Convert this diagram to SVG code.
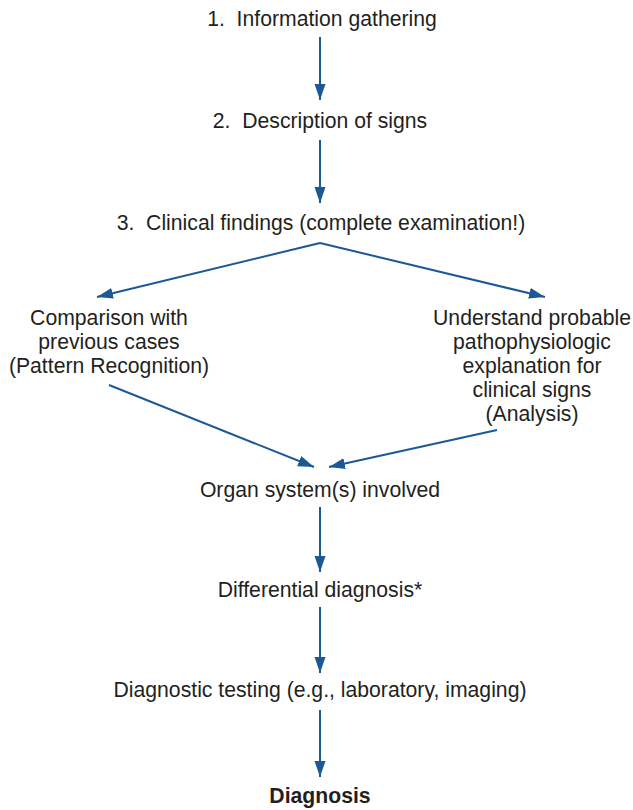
<svg xmlns="http://www.w3.org/2000/svg" width="633" height="810" viewBox="0 0 633 810">
<style>
text{font-family:"Liberation Sans",Arial,sans-serif;font-size:21.2px;fill:#231f20;text-anchor:middle;white-space:pre}
.b{font-weight:bold}
.c{stroke:#1b5996;stroke-width:2;fill:none}
</style>
<defs>
<marker id="ah" markerUnits="userSpaceOnUse" markerWidth="20" markerHeight="14" refX="16" refY="6" orient="auto">
<path d="M0,0.5 L16,6 L0,11.5 Z" fill="#1b5996"/>
</marker>
</defs>
<rect width="633" height="810" fill="#fff"/>
<g id="connectors">
<line class="c" x1="320" y1="37" x2="320" y2="100" marker-end="url(#ah)"/>
<line class="c" x1="320" y1="140" x2="320" y2="203" marker-end="url(#ah)"/>
<line class="c" x1="320" y1="243" x2="97" y2="297" marker-end="url(#ah)"/>
<line class="c" x1="320" y1="243" x2="545" y2="297" marker-end="url(#ah)"/>
<line class="c" x1="109" y1="385" x2="314" y2="467" marker-end="url(#ah)"/>
<line class="c" x1="497" y1="430" x2="329" y2="467" marker-end="url(#ah)"/>
<line class="c" x1="320" y1="507" x2="320" y2="572" marker-end="url(#ah)"/>
<line class="c" x1="320" y1="607" x2="320" y2="673" marker-end="url(#ah)"/>
<line class="c" x1="320" y1="710" x2="320" y2="777" marker-end="url(#ah)"/>
</g>
<g id="n1"><text x="322" y="26">1.  Information gathering</text></g>
<g id="n2"><text x="320" y="128">2.  Description of signs</text></g>
<g id="n3"><text x="321" y="230">3.  Clinical findings (complete examination!)</text></g>
<g id="n4"><text x="109" y="325">Comparison with</text><text x="109" y="349">previous cases</text><text x="109" y="373">(Pattern Recognition)</text></g>
<g id="n5"><text x="532" y="325">Understand probable</text><text x="532" y="349">pathophysiologic</text><text x="532" y="373">explanation for</text><text x="532" y="397">clinical signs</text><text x="532" y="421">(Analysis)</text></g>
<g id="n6"><text x="320" y="497">Organ system(s) involved</text></g>
<g id="n7"><text x="320" y="597">Differential diagnosis*</text></g>
<g id="n8"><text x="320" y="697">Diagnostic testing (e.g., laboratory, imaging)</text></g>
<g id="n9"><text class="b" x="320" y="803">Diagnosis</text></g>
</svg>
